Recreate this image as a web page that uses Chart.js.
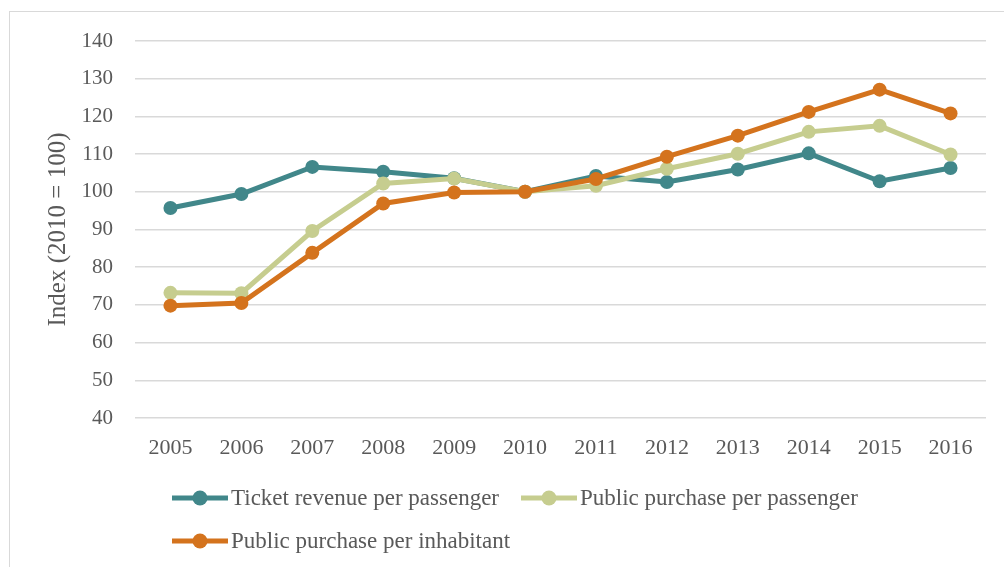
<!DOCTYPE html>
<html>
<head>
<meta charset="utf-8">
<script src="https://cdn.jsdelivr.net/npm/chart.js@4.4.1/dist/chart.umd.min.js"></script>
<style>
  html, body { margin: 0; padding: 0; background: #fff; }
  body { width: 1004px; height: 567px; position: relative; overflow: hidden; }
  #frame { position: absolute; left: 9px; top: 11px; width: 1100px; height: 700px;
           border: 1.5px solid #d9d9d9; box-sizing: border-box; }
  #wrap { position: absolute; left: 0; top: 0; width: 1004px; height: 567px; }
  #legend { position: absolute; left: 172px; top: 476px; width: 740px;
            font-family: "Liberation Serif", serif; font-size: 23px; color: #595959; }
  .item { display: inline-flex; align-items: center; height: 43px; margin-right: 22px; }
  .item canvas { margin-right: 3px; }
</style>
</head>
<body>
<div id="frame"></div>
<div id="wrap"><canvas id="myChart" width="1004" height="567"></canvas></div>
<div id="legend"></div>
<script>
const years = ['2005', '2006', '2007', '2008', '2009', '2010', '2011', '2012', '2013', '2014', '2015', '2016'];
const ticketRevenue = [95.7, 99.4, 106.6, 105.3, 103.6, 100, 104.2, 102.6, 105.9, 110.2, 102.8, 106.3];
const purchasePassenger = [73.2, 73.1, 89.6, 102.2, 103.5, 100, 101.6, 106.1, 110.1, 115.9, 117.5, 109.9];
const purchaseInhabitant = [69.8, 70.5, 83.8, 96.9, 99.8, 100, 103.4, 109.3, 114.9, 121.2, 127.1, 120.8];
const yMin = 40, yMax = 140, yStep = 10;

const teal = '#41878a';
const green = '#c6cd8f';
const orange = '#d4731d';
const textColor = '#595959';

function series(label, data, color, order) {
  return {
    label: label,
    data: data,
    borderColor: color,
    backgroundColor: color,
    borderWidth: 5,
    pointRadius: 7,
    pointHoverRadius: 7,
    pointBorderWidth: 0,
    tension: 0,
    order: order
  };
}

const ctx = document.getElementById('myChart').getContext('2d');
const myChart = new Chart(ctx, {
  type: 'line',
  data: {
    labels: years,
    datasets: [
      series('Ticket revenue per passenger', ticketRevenue, teal, 2),
      series('Public purchase per passenger', purchasePassenger, green, 1),
      series('Public purchase per inhabitant', purchaseInhabitant, orange, 0)
    ]
  },
  options: {
    responsive: false,
    animation: false,
    layout: { padding: { top: 41, right: 18, bottom: 99, left: 0 } },
    plugins: { legend: { display: false }, tooltip: { enabled: false } },
    scales: {
      x: {
        offset: true,
        grid: { display: false },
        border: { display: false },
        ticks: { color: textColor, padding: 9, maxRotation: 0, font: { family: 'Liberation Serif', size: 22 } },
        afterFit: scale => { scale.height = 50; }
      },
      y: {
        min: yMin,
        max: yMax,
        grid: { color: '#d9d9d9', lineWidth: 1.5, drawTicks: false },
        border: { display: false },
        ticks: { stepSize: yStep, color: textColor, padding: 22, font: { family: 'Liberation Serif', size: 21 } },
        title: {
          display: true,
          text: 'Index (2010 = 100)',
          color: textColor,
          font: { family: 'Liberation Serif', size: 25 },
          padding: { top: 43, bottom: 0 }
        },
        afterFit: scale => { scale.width = 135; }
      }
    }
  }
});

// legend built from the chart datasets
const legend = document.getElementById('legend');
myChart.data.datasets.forEach(ds => {
  const item = document.createElement('span');
  item.className = 'item';
  const c = document.createElement('canvas');
  c.width = 56; c.height = 16;
  const g = c.getContext('2d');
  g.strokeStyle = ds.borderColor;
  g.lineWidth = 5;
  g.beginPath(); g.moveTo(0, 8); g.lineTo(56, 8); g.stroke();
  g.fillStyle = ds.backgroundColor;
  g.beginPath(); g.arc(28, 8, 7.5, 0, Math.PI * 2); g.fill();
  item.appendChild(c);
  const t = document.createElement('span');
  t.textContent = ds.label;
  item.appendChild(t);
  legend.appendChild(item);
});
</script>
</body>
</html>
